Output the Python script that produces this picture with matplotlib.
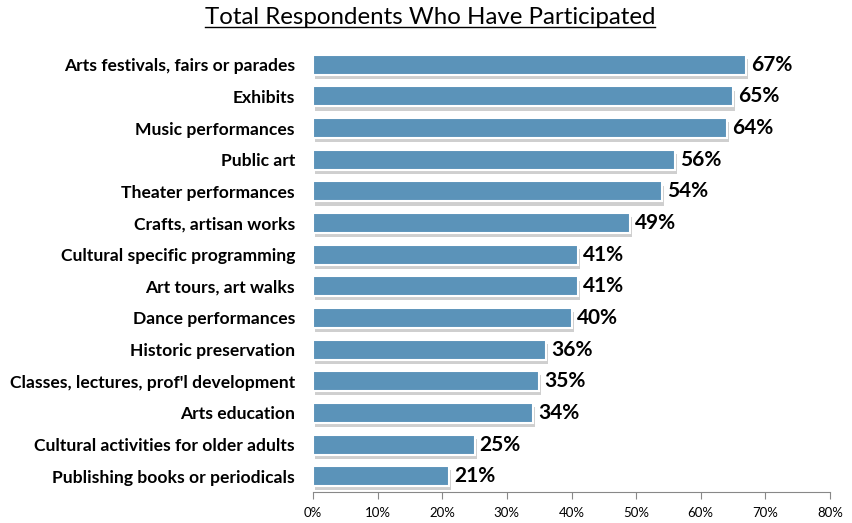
import matplotlib
matplotlib.use('Agg')
import matplotlib.pyplot as plt
import matplotlib.patheffects as pe
from matplotlib.lines import Line2D
import numpy as np

plt.rcParams['font.family'] = ['Lato', 'DejaVu Sans']

categories = ['Arts festivals, fairs or parades', 'Exhibits', 'Music performances',
              'Public art', 'Theater performances', 'Crafts, artisan works',
              'Cultural specific programming', 'Art tours, art walks',
              'Dance performances', 'Historic preservation',
              "Classes, lectures, prof'l development", 'Arts education',
              'Cultural activities for older adults', 'Publishing books or periodicals']
values = [67, 65, 64, 56, 54, 49, 41, 41, 40, 36, 35, 34, 25, 21]
xticks = [0, 10, 20, 30, 40, 50, 60, 70, 80]

fig = plt.figure(figsize=(8.52, 5.23), dpi=100)
ax = fig.add_axes([313/852, 31/523, 517/852, 443/523])

y = np.arange(len(categories))
bars = ax.barh(y, values, height=0.63, color='#5b93b9', edgecolor='white', linewidth=1.5)
for b in bars:
    b.set_path_effects([pe.SimplePatchShadow(offset=(1.5, -3), shadow_rgbFace='#777777', alpha=0.35),
                        pe.Normal()])

for yi, v in zip(y, values):
    ax.text(v + 0.8, yi, f'{v}%', va='center', ha='left', fontsize=15, fontweight='bold')

ax.set_ylim(len(categories) - 0.5, -0.5)
ax.set_xlim(0, 80)
ax.set_yticks(y)
ax.set_yticklabels(categories, fontsize=12.6, fontweight='bold')
ax.tick_params(axis='y', length=0, pad=13)
ax.set_xticks(xticks)
ax.set_xticklabels([f'{t}%' for t in xticks], fontsize=9.5)
ax.tick_params(axis='x', direction='out', length=5, color='#888888', pad=6)
for s in ['top', 'right', 'left']:
    ax.spines[s].set_visible(False)
ax.spines['bottom'].set_color('#888888')

title = fig.text(430/852, 1 - 18/523, 'Total Respondents Who Have Participated',
                 ha='center', va='center', fontsize=17.3)
fig.canvas.draw()
bb = title.get_window_extent().transformed(fig.transFigure.inverted())
fig.add_artist(Line2D([bb.x0, bb.x1], [bb.y0 + 0.002, bb.y0 + 0.002],
                      transform=fig.transFigure, color='black', linewidth=1))

fig.savefig('out.png', dpi=100)
